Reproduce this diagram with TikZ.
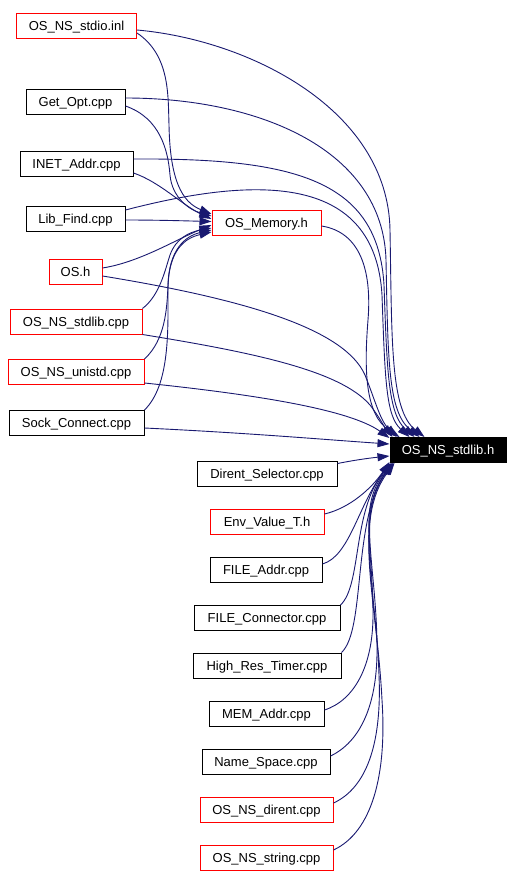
\documentclass[tikz,border=0pt]{standalone}
\usepackage{fontspec}
\setmainfont{Liberation Sans}
\usetikzlibrary{arrows.meta}
\definecolor{edgeblue}{HTML}{191970}
\begin{document}
\begin{tikzpicture}[x=1pt,y=-1pt,
  box/.style={draw, line width=1pt, minimum height=25pt, inner sep=0pt, fill=white,
    text height=9.4pt, text depth=0pt,
    font=\fontsize{13}{15}\selectfont},
  redbox/.style={box, draw=red},
  blkbox/.style={box, draw=black},
  dep/.style={draw=edgeblue, line width=0.9pt, -{Triangle[length=12pt,width=8pt]}}
]
\useasboundingbox (0,0) rectangle (514,876);
% left column
\node[redbox, minimum width=120pt] (stdio) at (76.5,25.5) {OS\_NS\_stdio.inl};
\node[blkbox, minimum width=99pt] (getopt) at (75.5,101.5) {Get\_Opt.cpp};
\node[blkbox, minimum width=113pt] (inet) at (76.5,164) {INET\_Addr.cpp};
\node[blkbox, minimum width=99pt] (libfind) at (75.5,218.5) {Lib\_Find.cpp};
\node[redbox, minimum width=53pt] (os) at (75.5,272) {OS.h};
\node[redbox, minimum width=132pt] (nsstdlib) at (76,321.5) {OS\_NS\_stdlib.cpp};
\node[redbox, minimum width=136pt] (unistd) at (76,372) {OS\_NS\_unistd.cpp};
\node[blkbox, minimum width=135pt] (sock) at (76.5,423) {Sock\_Connect.cpp};
% middle
\node[redbox, minimum width=109pt] (mem) at (266.5,222.5) {OS\_Memory.h};
\node[box, draw=black, fill=black, text=white, minimum width=116pt] (h) at (448,450) {OS\_NS\_stdlib.h};
% lower column
\node[blkbox, minimum width=140pt] (dirsel) at (267,473.5) {Dirent\_Selector.cpp};
\node[redbox, minimum width=114pt] (env) at (267,521.5) {Env\_Value\_T.h};
\node[blkbox, minimum width=112pt] (faddr) at (266,569.5) {FILE\_Addr.cpp};
\node[blkbox, minimum width=146pt] (fconn) at (267,618) {FILE\_Connector.cpp};
\node[blkbox, minimum width=148pt] (hrt) at (267,665.5) {High\_Res\_Timer.cpp};
\node[blkbox, minimum width=115pt] (memaddr) at (266.5,713.5) {MEM\_Addr.cpp};
\node[blkbox, minimum width=128pt] (ns) at (266,761.5) {Name\_Space.cpp};
\node[redbox, minimum width=133pt] (dirent) at (266.5,809.5) {OS\_NS\_dirent.cpp};
\node[redbox, minimum width=133pt] (string) at (266.5,857.5) {OS\_NS\_string.cpp};

% edges to OS_Memory.h
\draw[dep] ([yshift=-7.5pt]stdio.east) .. controls (170,55) and (168,95) .. (169,125) .. controls (170,180) and (182,202) .. ([yshift=8.5pt]mem.west);
\draw[dep] ([yshift=-4.5pt]getopt.east) .. controls (160,118) and (168,150) .. (170,175) .. controls (172,198) and (190,210) .. ([yshift=6.5pt]mem.west);
\draw[dep] ([yshift=-9pt]inet.east) .. controls (160,182) and (182,205) .. ([yshift=3.5pt]mem.west);
\draw[dep] ([yshift=-1.5pt]libfind.east) .. controls (160,220) and (190,221) .. ([yshift=1pt]mem.west);
\draw[dep] ([yshift=4pt]os.east) .. controls (140,262) and (175,240) .. ([yshift=-2.5pt]mem.west);
\draw[dep] (nsstdlib.north east) .. controls (160,295) and (165,270) .. (170,255) .. controls (176,238) and (190,232) .. ([yshift=-5.5pt]mem.west);
\draw[dep] (unistd.north east) .. controls (165,340) and (167,310) .. (168,285) .. controls (169,250) and (185,236) .. ([yshift=-7.5pt]mem.west);
\draw[dep] (sock.north east) .. controls (170,385) and (168,330) .. (168,290) .. controls (168,250) and (185,238) .. ([yshift=-9.5pt]mem.west);

% edges to OS_NS_stdlib.h from above / left
\draw[dep] ([yshift=-4.5pt]stdio.east) .. controls (250,40) and (388,110) .. (390,230) .. controls (392,340) and (390,410) .. ([xshift=35pt]h.north west);
\draw[dep] ([yshift=3.5pt]getopt.east) .. controls (260,98) and (383,150) .. (386,260) .. controls (388,360) and (388,412) .. ([xshift=30pt]h.north west);
\draw[dep] ([yshift=5pt]inet.east) .. controls (295,158) and (378,180) .. (384,285) .. controls (387,370) and (388,414) .. ([xshift=25pt]h.north west);
\draw[dep] ([yshift=8.5pt]libfind.east) .. controls (260,175) and (375,175) .. (382,295) .. controls (385,380) and (386,416) .. ([xshift=20pt]h.north west);
\draw[dep] ([yshift=-3.5pt]mem.east) .. controls (360,232) and (372,270) .. (368,320) .. controls (364,370) and (365,415) .. ([xshift=10pt]h.north west);
\draw[dep] ([yshift=-4pt]os.east) .. controls (250,300) and (345,330) .. (365,375) .. controls (375,400) and (380,420) .. ([xshift=7pt]h.north west);
\draw[dep] (nsstdlib.south east) .. controls (250,352) and (340,370) .. (370,405) .. controls (380,418) and (385,428) .. ([xshift=3pt]h.north west);
\draw[dep] ([yshift=-11pt]unistd.east) .. controls (260,395) and (350,410) .. ([yshift=-1pt]h.north west);
\draw[dep] ([yshift=-5pt]sock.east) .. controls (250,433) and (330,440) .. ([yshift=6pt]h.west);
\draw[dep] ([yshift=10pt]dirsel.east) .. controls (355,460) and (370,458) .. ([yshift=-6pt]h.west);

% edges to OS_NS_stdlib.h from below
\draw[dep] ([yshift=7.5pt]env.east) .. controls (350,508) and (372,488) .. ([yshift=1pt]h.south west);
\draw[dep] ([yshift=5.5pt]faddr.east) .. controls (350,556) and (358,505) .. ([xshift=1pt]h.south west);
\draw[dep] (fconn.north east) .. controls (362,585) and (352,510) .. ([xshift=2pt]h.south west);
\draw[dep] (hrt.north east) .. controls (366,630) and (352,520) .. ([xshift=3pt]h.south west);
\draw[dep] ([yshift=3.5pt]memaddr.east) .. controls (355,700) and (373,665) .. (373,615) .. controls (373,545) and (358,505) .. ([xshift=3pt]h.south west);
\draw[dep] ([yshift=5.5pt]ns.east) .. controls (360,742) and (378,705) .. (377,645) .. controls (376,560) and (356,510) .. ([xshift=4pt]h.south west);
\draw[dep] ([yshift=6.5pt]dirent.east) .. controls (366,788) and (382,745) .. (379,675) .. controls (376,585) and (354,515) .. ([xshift=4pt]h.south west);
\draw[dep] ([yshift=7.5pt]string.east) .. controls (372,832) and (387,775) .. (382,700) .. controls (377,600) and (352,520) .. ([xshift=5pt]h.south west);
\end{tikzpicture}
\end{document}
